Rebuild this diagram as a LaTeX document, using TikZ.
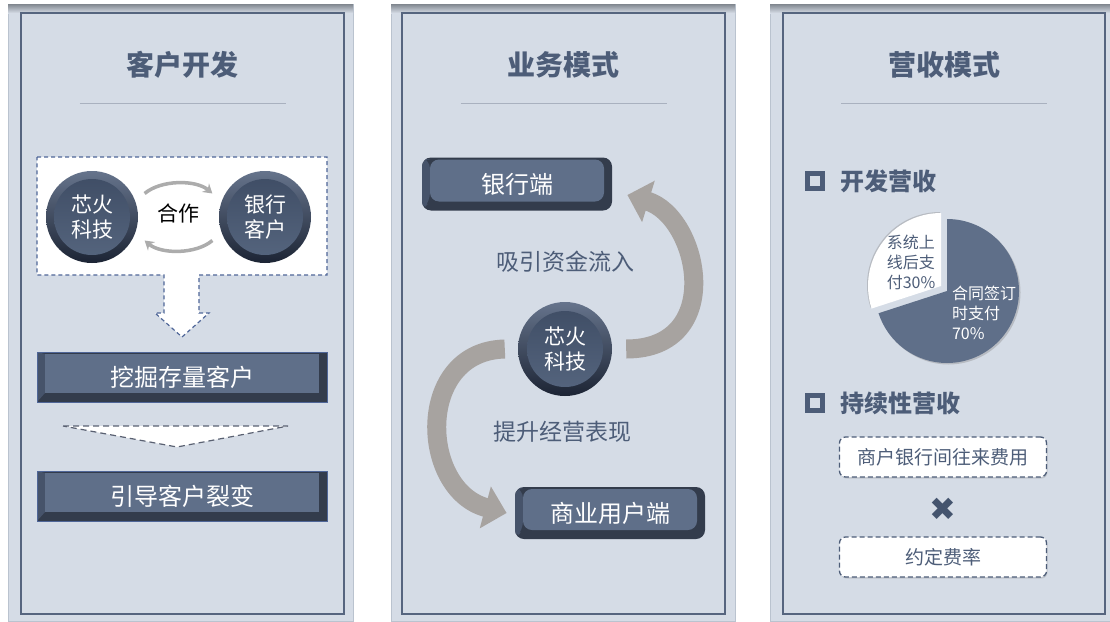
\documentclass[tikz,border=0pt]{standalone}
\usepackage{fontspec}
\setmainfont{Noto Sans CJK SC}
\newfontfamily\symfont{DejaVu Sans}
\usetikzlibrary{positioning,arrows.meta,shadows}

\definecolor{panelbg}{HTML}{D5DCE6}
\definecolor{paneledge}{HTML}{BAC3CF}
\definecolor{paneltop}{HTML}{80868E}
\definecolor{frameline}{HTML}{56657F}
\definecolor{slate}{HTML}{4D5D78}
\definecolor{btnface}{HTML}{5F6F89}
\definecolor{btndark}{HTML}{333C4C}
\definecolor{btnside}{HTML}{46536A}
\definecolor{rule}{HTML}{A9B1BF}
\definecolor{flowgray}{HTML}{A7A3A0}
\definecolor{dashblue}{HTML}{4F6698}
\definecolor{dashgray}{HTML}{5A6172}
\definecolor{orbdark}{HTML}{1C2434}
\definecolor{orbrim}{HTML}{66748C}
\definecolor{orbin}{HTML}{3E4C64}
\definecolor{orbmid}{HTML}{56667F}
\definecolor{crossc}{HTML}{44546E}

\begin{document}
\begin{tikzpicture}[x=1pt,y=1pt,on grid,
    title/.style={font=\bfseries\fontsize{28}{32}\selectfont,text=slate},
    subhead/.style={font=\bfseries\fontsize{24}{28}\selectfont,text=slate},
    plain/.style={font=\fontsize{23}{27}\selectfont,text=slate},
    sqbullet/.style={draw=slate,line width=4.5pt,minimum size=15pt,inner sep=0pt},
    btn/.style={fill=btndark,text=white,inner sep=0pt,minimum width=290pt,minimum height=50pt,
      draw=dashblue,line width=.8pt,font=\fontsize{24}{28}\selectfont,
      path picture={
        \coordinate (bsw) at (path picture bounding box.south west);
        \coordinate (bnw) at (path picture bounding box.north west);
        \coordinate (bne) at (path picture bounding box.north east);
        \fill[btnside] (bsw) -- (bnw) -- ([shift={(8pt,-2pt)}]bnw) -- ([shift={(8pt,9pt)}]bsw) -- cycle;
        \fill[btnface] ([shift={(8pt,9pt)}]bsw) rectangle ([shift={(-8pt,-2pt)}]bne);
      }},
    rbtn/.style={btn,draw=none,rounded corners=9pt,minimum width=190pt,minimum height=53pt},
    orb/.style={circle,minimum size=92pt,inner sep=0pt,align=center,text=white,
      font=\fontsize{21}{25}\selectfont,top color=orbrim,bottom color=orbdark,
      path picture={\shade[top color=orbin,bottom color=orbmid]
        (path picture bounding box.center) circle (38pt);}},
    flow/.style={draw=flowgray,line width=19pt,-{Triangle[width=42pt,length=22pt]}},
    coop/.style={draw=gray!65,line width=3.5pt,-{Stealth[length=9pt,width=11pt]},
      shorten <=12pt,shorten >=12pt},
    dbox/.style={draw=slate,fill=white,line width=1.3pt,dash pattern=on 5pt off 3pt,
      rounded corners=6pt,minimum width=207pt,minimum height=40pt,text=slate,
      font=\fontsize{19}{23}\selectfont,
      drop shadow={opacity=.25,shadow xshift=1pt,shadow yshift=-1.5pt}},
  ]
\useasboundingbox (0,0) rectangle (1110,-621);

% panels
\foreach \pl/\pr/\fl/\fr/\head [count=\i] in {8/353/21/344/客户开发,391/735/402/725/业务模式,770/1110/783/1105/营收模式}{
  \filldraw[fill=panelbg,draw=paneledge] (\pl,-4) rectangle (\pr,-621);
  \shade[top color=paneltop,bottom color=panelbg] (\pl,-4) rectangle (\pr,-13);
  \draw[frameline,line width=1.4pt] (\fl,-13) rectangle (\fr,-614);
  \node[title] (head\i) at ({(\fl+\fr)/2},-65) {\head};
  \draw[rule,line width=1pt] ({(\fl+\fr)/2-103},-103) -- ++(206,0);
}

% customer development
\draw[dashblue,line width=1.2pt,dash pattern=on 4pt off 3pt,fill=white]
  (37,-157) -- (327,-157) -- (327,-275) -- (199,-275) -- (199,-313) -- (209,-313)
  -- (182,-337) -- (155,-313) -- (164,-313) -- (164,-275) -- (37,-275) -- cycle;
\node[orb] (xh1) at (92,-217) {芯火\\科技};
\node[orb] (bank1) [right=173pt of xh1] {银行\\客户};
\node[font=\fontsize{21}{25}\selectfont] (coop) at (178,-213) {合作};
\path (xh1.20) edge[coop,bend left=40] (bank1.160)
      (bank1.200) edge[coop,bend left=40] (xh1.-20);
\node[btn] (dig) at (182,-377) {挖掘存量客户};
\draw[dashgray,line width=1.2pt,dash pattern=on 6pt off 4pt,fill=white]
  (63,-426) -- (288,-426) -- (177,-447) -- cycle;
\node[btn] (split) [below=119pt of dig] {引导客户裂变};

% business model
\node[rbtn] (bank2) at (517,-184) {银行端};
\node[orb,minimum size=94pt] (xh2) at (565,-349) {芯火\\科技};
\node[rbtn,minimum height=52pt] (biz) at (610,-513) {商业用户端};
\node[plain] (inflow) at (565,-262) {吸引资金流入};
\node[plain] (perf) at (562,-432) {提升经营表现};
\draw[flow] ([xshift=14pt]xh2.east) .. controls +(100,0) and +(72,-22) .. ([xshift=15pt,yshift=-11pt]bank2.east);
\draw[flow] ([xshift=-13pt]xh2.west) .. controls +(-90,-2) and +(-87,23) .. ([xshift=-8pt]biz.west);

% revenue model
\node[sqbullet] (bul1) at (815,-181) {};
\node[subhead] (devrev) [right=22pt of bul1,anchor=west] {开发营收};
\fill[btnface,drop shadow={opacity=.35,shadow xshift=1.5pt,shadow yshift=-1.5pt}]
  (947,-291) -- ++(90:72) arc[start angle=90,end angle=-162,radius=72] -- cycle;
\fill[white,drop shadow={opacity=.35,shadow xshift=-1pt,shadow yshift=1pt}]
  (941,-286) -- ++(90:73) arc[start angle=90,end angle=198,radius=73] -- cycle;
\node[text=slate,align=left,font=\fontsize{16}{20}\selectfont] (part30) at (911,-262) {系统上\\线后支\\付30\%};
\node[text=white,align=left,font=\fontsize{16}{20}\selectfont] (part70) at (984,-313) {合同签订\\时支付\\70\%};
\node[sqbullet] (bul2) at (815,-403) {};
\node[subhead] (keeprev) [right=22pt of bul2,anchor=west] {持续性营收};
\node[dbox] (fee) at (943,-457) {商户银行间往来费用};
\node[text=crossc,font=\symfont\fontsize{32}{32}\selectfont] (times) [below=52pt of fee] {✖};
\node[dbox] (rate) [below=100pt of fee] {约定费率};
\end{tikzpicture}
\end{document}
